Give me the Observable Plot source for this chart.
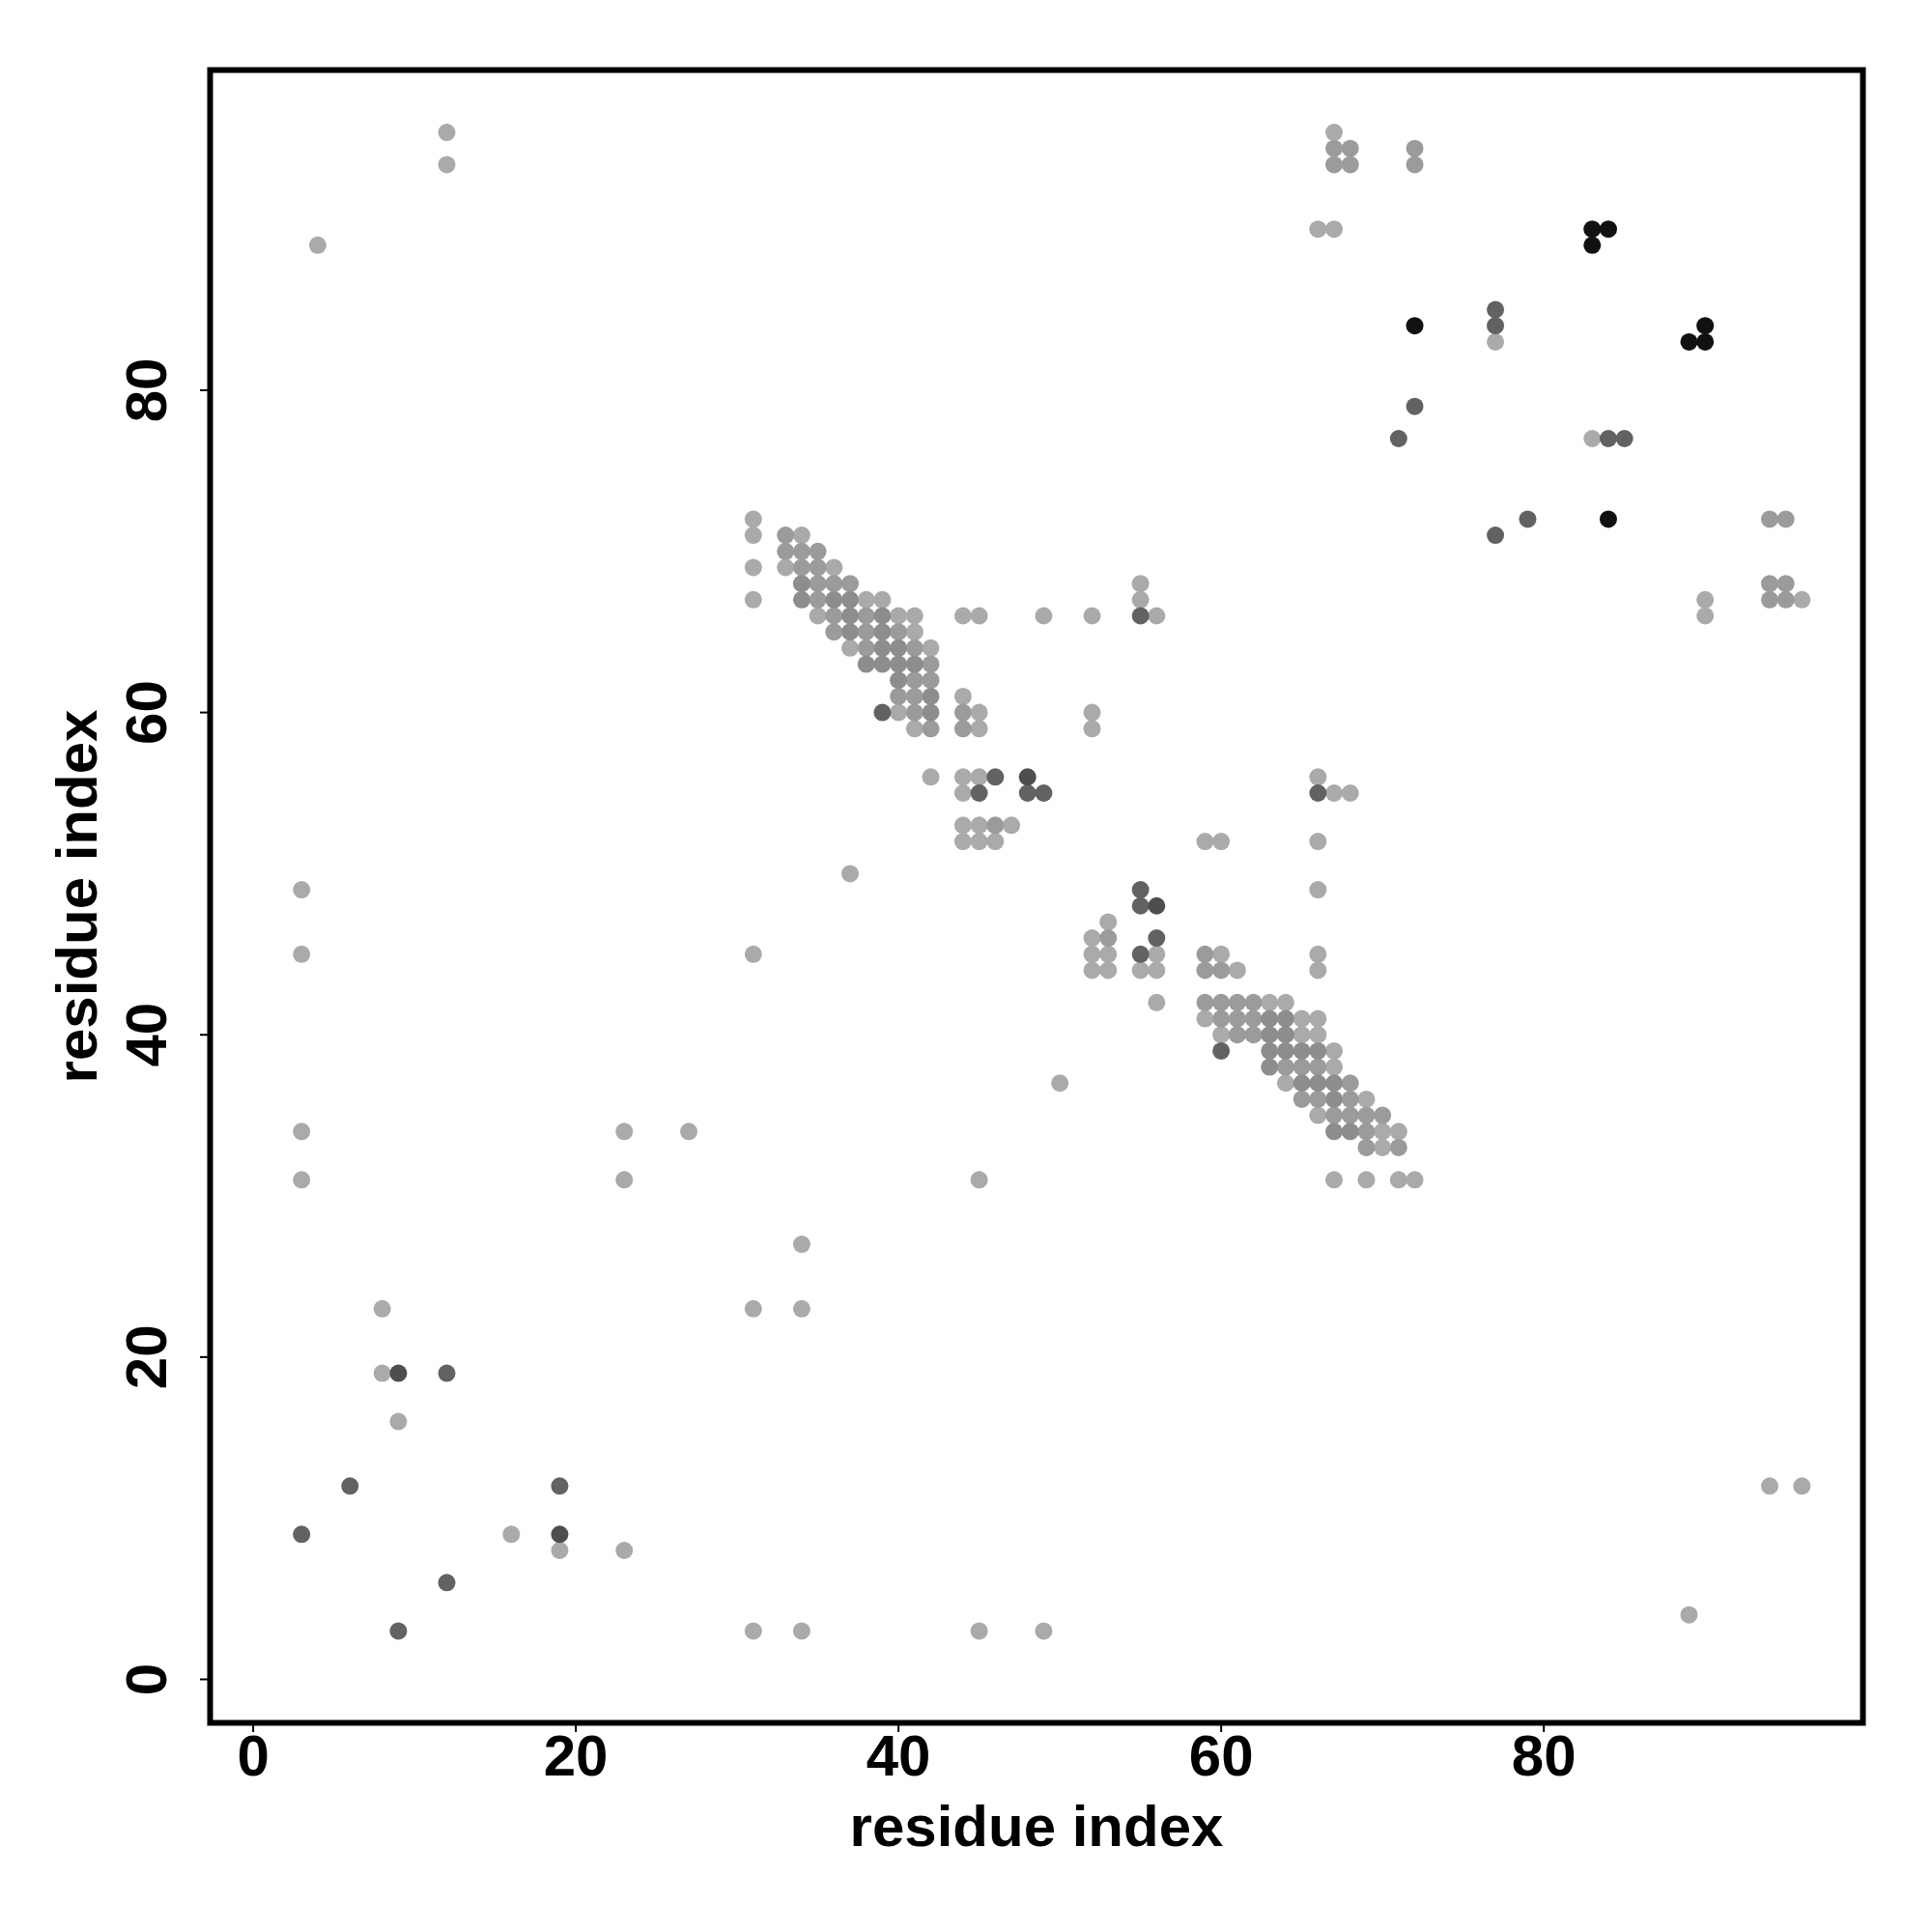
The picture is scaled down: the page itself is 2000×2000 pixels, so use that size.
<!DOCTYPE html>
<html>
<head>
<meta charset="utf-8">
<script src="https://cdn.jsdelivr.net/npm/d3@7"></script>
<script src="https://cdn.jsdelivr.net/npm/@observablehq/plot@0.6"></script>
<style>
  html, body { margin: 0; padding: 0; background: #fff; }
  #chart { width: 2000px; height: 2000px; }
</style>
</head>
<body>
<div id="chart"></div>
<script>
// Tick values
const xTicks = [0, 20, 40, 60, 80];
const yTicks = [0, 20, 40, 60, 80];
const axisTitle = "residue index";

// Contacts grouped by grey level (1 = lightest ... 6 = black)
const level1 = [
  [12,96],[12,94],[4,89],[3,49],[3,45],[3,34],[3,31],[8,23],[8,19],[9,16],[16,9],[19,8],[23,8],
  [23,34],[23,31],[27,34],[31,23],[34,27],[34,23],[31,3],[34,3],[45,3],[49,3],[31,45],[45,31],
  [37,50],[50,37],[89,4],[94,12],[96,12],
  [31,72],[31,71],[31,69],[31,67],[34,71],[33,69],[36,69],[38,67],[39,67],[35,66],[40,66],[41,66],
  [41,65],[37,64],[42,64],[40,60],[41,59],
  [44,66],[45,66],[49,66],[52,66],[55,68],[55,67],[56,66],[44,61],[45,60],[45,59],[42,56],[44,56],
  [45,56],[44,55],[44,53],[45,53],[47,53],[44,52],[45,52],[46,52],[52,60],[52,59],[59,52],[60,52],
  [66,56],[67,55],[68,55],[66,52],[66,49],[66,45],[66,44],[53,47],[52,46],[52,45],[53,45],[56,45],
  [52,44],[53,44],[55,44],[56,44],[56,42],
  [60,45],[61,44],[63,42],[64,42],[59,41],[65,41],[66,41],[60,40],[65,40],[66,40],[67,39],[67,38],
  [64,37],[69,36],[66,35],[70,34],[71,34],[70,33],[67,31],[69,31],[71,31],[72,31],
  [66,90],[67,90],[67,96],[77,83],[83,77],[96,67],[90,67],[90,66]
];
const level2 = [
  [33,71],[33,70],[34,70],[35,70],[34,69],[35,69],[35,68],[36,68],[37,68],[35,67],[36,66],[38,66],
  [36,65],[38,65],[40,65],[38,64],[41,64],[42,63],[41,62],[42,62],[40,61],[41,61],[41,60],[42,59],
  [44,60],[44,59],[46,53],[53,46],
  [59,45],[59,44],[60,44],[59,42],[60,42],[61,42],[62,42],[60,41],[61,41],[62,41],[61,40],[62,40],
  [64,38],[65,38],[66,38],[68,37],[65,36],[66,36],[68,36],[67,35],[68,35],[69,35],[70,35],[69,34],
  [69,33],[71,33],
  [67,95],[68,95],[67,94],[68,94],[72,95],[72,94],[94,72],[95,72],[95,68],[94,68],[94,67],[95,67]
];
const level3 = [
  [34,68],[34,67],[36,67],[37,67],[37,66],[39,66],[37,65],[39,65],[39,64],[40,64],[38,63],[39,63],
  [40,63],[41,63],[40,62],[42,61],[42,60],
  [63,41],[64,41],[63,40],[64,40],[63,39],[64,39],[65,39],[66,39],[63,38],[65,37],[66,37],[67,37],
  [67,36],[67,34],[68,34]
];
const level4 = [
  [12,19],[6,12],[19,12],[3,9],[12,6],[9,3],[39,60],[55,66],[46,56],[45,55],[48,55],[49,55],[66,55],
  [55,49],[55,48],[56,46],[55,45],[60,39],[77,85],[77,84],[72,79],[71,77],[84,77],[85,77],[77,71],[79,72]
];
const level5 = [[9,19],[19,9],[48,56],[56,48]];
const level6 = [[83,90],[84,90],[83,89],[72,84],[89,83],[90,84],[90,83],[84,72]];

const levels = [level1, level2, level3, level4, level5, level6];
const greys = ["#aaaaaa", "#9b9b9b", "#8d8d8d", "#626262", "#4e4e4e", "#111111"];

const points = levels.flatMap((pts, i) => pts.map(([x, y]) => ({x, y, level: i + 1})));

const font = "'Liberation Sans', Arial, Helvetica, sans-serif";

const chart = Plot.plot({
  width: 2000,
  height: 2000,
  marginLeft: 217,
  marginRight: 72,
  marginTop: 72,
  marginBottom: 217,
  style: {fontFamily: font, background: "#fff", color: "black"},
  x: {domain: [-2.67, 99.78]},
  y: {domain: [-2.70, 99.87]},
  color: {type: "ordinal", domain: [1, 2, 3, 4, 5, 6], range: greys},
  marks: [
    Plot.dot(points, {x: "x", y: "y", r: 9, fill: "level"}),
    Plot.frame({stroke: "black", strokeWidth: 6}),
    Plot.axisX(xTicks, {tickSize: 10, tickPadding: 2, strokeWidth: 2, fontSize: 60, fontWeight: "bold", label: null}),
    Plot.axisY(yTicks, {tickSize: 10, tickPadding: 36, strokeWidth: 2, tickRotate: -90,
      textAnchor: "middle", lineAnchor: "bottom", fontSize: 60, fontWeight: "bold", label: null}),
    Plot.text([axisTitle], {frameAnchor: "bottom", dy: 127, text: d => d, lineAnchor: "bottom",
      fontSize: 60, fontWeight: "bold"}),
    Plot.text([axisTitle], {frameAnchor: "left", dx: -118, rotate: -90, text: d => d,
      lineAnchor: "bottom", textAnchor: "middle", fontSize: 60, fontWeight: "bold"})
  ]
});
document.getElementById("chart").appendChild(chart);
</script>
</body>
</html>
